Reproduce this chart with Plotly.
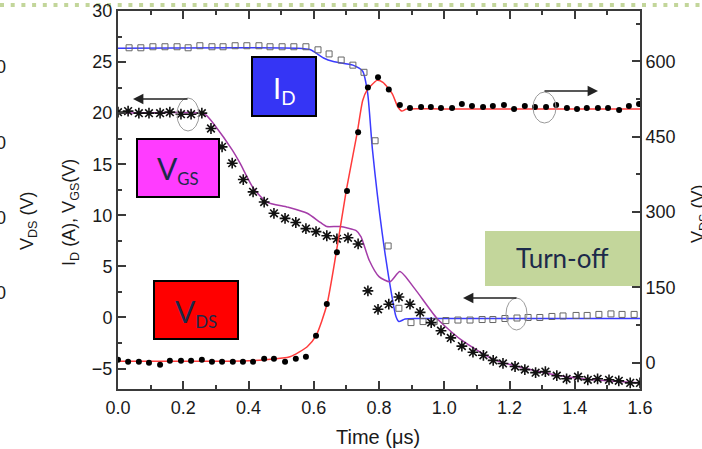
import plotly.graph_objects as go

# ---------------- data ----------------
# I_D simulated line (left axis, A)
id_line_x = [0.0, 0.55, 0.59, 0.63, 0.66, 0.72, 0.75, 0.765, 0.78, 0.81, 0.84, 0.852, 0.861, 0.88, 0.92, 1.6]
id_line_y = [26.35, 26.35, 26.2, 25.4, 25.05, 24.7, 24.1, 22.0, 16.4, 8.2, 2.0, 0.1, -0.4, -0.15, -0.1, -0.1]

# I_D measured (open squares)
id_x = [0.034, 0.070, 0.107, 0.144, 0.181, 0.215, 0.251, 0.288, 0.322, 0.359, 0.395, 0.432, 0.466, 0.503,
        0.539, 0.576, 0.613, 0.647, 0.684, 0.720, 0.754, 0.788, 0.828, 0.861, 0.898, 0.935, 0.969, 1.005,
        1.042, 1.079, 1.116, 1.149, 1.186, 1.223, 1.257, 1.293, 1.330, 1.364, 1.404, 1.438, 1.474, 1.511,
        1.545, 1.582]
id_y = [26.4, 26.4, 26.5, 26.5, 26.5, 26.4, 26.6, 26.5, 26.5, 26.6, 26.6, 26.6, 26.5, 26.5,
        26.5, 26.5, 26.2, 25.8, 25.2, 24.7, 24.0, 17.3, 7.0, 0.9, -0.5, -0.4, -0.4, -0.3,
        -0.25, -0.25, -0.2, -0.2, -0.1, -0.05, 0.0, 0.0, 0.1, 0.15, 0.2, 0.2, 0.3, 0.35,
        0.3, 0.3]

# V_GS simulated line (left axis, V)
vgs_line_x = [0.0, 0.25, 0.27, 0.297, 0.35, 0.374, 0.414, 0.456, 0.52, 0.58, 0.62, 0.64, 0.68, 0.73,
              0.745, 0.77, 0.80, 0.834, 0.864, 0.91, 0.978, 1.048, 1.15, 1.25, 1.355, 1.457, 1.6]
vgs_line_y = [20.0, 20.0, 19.8, 18.8, 16.4, 15.1, 12.7, 11.3, 10.8, 10.2, 9.3, 8.9, 8.9, 8.5,
              7.9, 5.6, 4.0, 3.5, 4.5, 2.8, -0.1, -2.1, -4.1, -5.0, -5.7, -6.1, -6.4]

# V_GS measured (asterisks)
vgs_x = [0.0, 0.031, 0.064, 0.095, 0.129, 0.159, 0.193, 0.224, 0.257, 0.285, 0.319, 0.35, 0.384, 0.414,
         0.448, 0.478, 0.512, 0.545, 0.576, 0.607, 0.64, 0.671, 0.705, 0.736, 0.766, 0.797, 0.83, 0.861,
         0.895, 0.926, 0.96, 0.99, 1.02, 1.054, 1.088, 1.12, 1.15, 1.18, 1.217, 1.247, 1.28, 1.31, 1.345,
         1.375, 1.41, 1.44, 1.47, 1.505, 1.535, 1.57, 1.6]
vgs_y = [20.1, 20.2, 20.0, 20.0, 20.0, 20.1, 19.9, 19.9, 20.0, 18.5, 16.7, 15.1, 13.5, 12.3,
         11.3, 10.2, 9.7, 9.3, 8.7, 8.4, 8.0, 7.7, 7.8, 7.2, 2.6, 0.8, 1.3, 2.0,
         1.3, 0.5, -0.5, -1.3, -2.0, -2.8, -3.4, -3.7, -4.2, -4.5, -4.8, -5.1, -5.4, -5.3, -5.7,
         -6.0, -5.8, -6.1, -6.0, -6.1, -6.2, -6.4, -6.4]

# V_DS simulated line (right axis, V)
vds_line_x = [0.0, 0.3, 0.4, 0.45, 0.527, 0.58, 0.607, 0.64, 0.67, 0.70, 0.733, 0.75, 0.763, 0.794,
              0.812, 0.84, 0.858, 0.87, 0.885, 1.0, 1.6]
vds_line_y = [3, 3, 4, 6, 12, 32, 54, 115, 224, 344, 457, 522, 542, 562,
              558, 536, 509, 501, 505, 505, 505]

# V_DS measured (filled dots)
vds_x = [0.0, 0.031, 0.064, 0.095, 0.129, 0.159, 0.193, 0.224, 0.257, 0.288, 0.319, 0.352, 0.383, 0.414,
         0.448, 0.478, 0.512, 0.545, 0.576, 0.607, 0.64, 0.671, 0.702, 0.736, 0.766, 0.797, 0.83, 0.864,
         0.895, 0.929, 0.959, 0.99, 1.024, 1.054, 1.085, 1.119, 1.149, 1.183, 1.214, 1.247, 1.278, 1.312,
         1.343, 1.376, 1.407, 1.437, 1.471, 1.502, 1.536, 1.566, 1.597]
vds_y = [6, 2, 2, 0, -4, 4, 4, 4, 6, 2, 2, 2, 2, 2,
         8, 8, 2, 8, 12, 54, 117, 220, 342, 459, 548, 568, 544, 513,
         507, 509, 509, 507, 507, 515, 511, 509, 511, 513, 505, 511, 509, 509,
         513, 507, 505, 507, 507, 507, 503, 511, 515]

x_ticks = [0.0, 0.2, 0.4, 0.6, 0.8, 1.0, 1.2, 1.4, 1.6]
x_ticktext = ["0.0", "0.2", "0.4", "0.6", "0.8", "1.0", "1.2", "1.4", "1.6"]
left_ticks = [-5, 0, 5, 10, 15, 20, 25, 30]
right_ticks = [0, 150, 300, 450, 600]

# ---------------- layout helpers ----------------
W, H = 702, 449
L, R, T, B = 118, 62, 11, 60
PW, PH = W - L - R, H - T - B


def px(xp):
    return (xp - L) / PW


def py(yp):
    return (H - B - yp) / PH


AX = "#3a3a3a"
NAVY = "#1c2a4a"

fig = go.Figure()

fig.add_trace(go.Scatter(x=id_line_x, y=id_line_y, mode="lines",
                         line=dict(color="#3b3bff", width=1.5, shape="spline", smoothing=0.6)))
fig.add_trace(go.Scatter(x=vgs_line_x, y=vgs_line_y, mode="lines",
                         line=dict(color="#a43ca8", width=1.5, shape="spline", smoothing=0.6)))
fig.add_trace(go.Scatter(x=vds_line_x, y=vds_line_y, mode="lines", yaxis="y2",
                         line=dict(color="#ff3b3b", width=1.5, shape="spline", smoothing=0.6)))
fig.add_trace(go.Scatter(x=id_x, y=id_y, mode="markers",
                         marker=dict(symbol="square-open", size=6, color="#666666",
                                     line=dict(width=1, color="#666666"))))
fig.add_trace(go.Scatter(x=vgs_x, y=vgs_y, mode="markers",
                         marker=dict(symbol="asterisk-open", size=9, color="#111111",
                                     line=dict(width=1.6, color="#111111"))))
fig.add_trace(go.Scatter(x=vds_x, y=vds_y, mode="markers", yaxis="y2",
                         marker=dict(symbol="circle", size=6, color="#000000")))

tickfont = dict(family="Liberation Sans, Arial, sans-serif", size=18, color="#1a1a1a")

shapes = []
# dotted green slide line at the top
shapes.append(dict(type="line", xref="paper", yref="paper", x0=px(0), x1=px(702), y0=py(5), y1=py(5),
                   line=dict(color="#c3d69b", width=4, dash="4px,6.7px"), layer="below"))
# boxes
shapes.append(dict(type="rect", xref="paper", yref="paper", x0=px(252), x1=px(316), y0=py(116), y1=py(57),
                   fillcolor="#3535f5", line=dict(color="#000000", width=2), layer="above"))
shapes.append(dict(type="rect", xref="paper", yref="paper", x0=px(137), x1=px(219), y0=py(197), y1=py(139),
                   fillcolor="#ff3cff", line=dict(color="#000000", width=2), layer="above"))
shapes.append(dict(type="rect", xref="paper", yref="paper", x0=px(154), x1=px(238), y0=py(339), y1=py(281),
                   fillcolor="#ff0000", line=dict(color="#000000", width=2), layer="above"))
shapes.append(dict(type="rect", xref="paper", yref="paper", x0=px(485), x1=px(640), y0=py(286), y1=py(231),
                   fillcolor="#c3d69b", line=dict(width=0), layer="above"))
# ellipses
for cx, cy, rx, ry in [(188, 114.5, 11, 16.5), (544.5, 107.5, 11.5, 15.5), (516.5, 314, 10.5, 16)]:
    shapes.append(dict(type="circle", xref="paper", yref="paper", x0=px(cx - rx), x1=px(cx + rx),
                       y0=py(cy + ry), y1=py(cy - ry), line=dict(color="#9a9a9a", width=1)))

annotations = []
# arrows
for tipx, tipy, tailx in [(133, 99, 189), (598, 91, 543), (463, 298, 518)]:
    annotations.append(dict(xref="paper", yref="paper", x=px(tipx), y=py(tipy), ax=tailx - tipx, ay=0,
                            text="", showarrow=True, arrowhead=2, arrowsize=1.6, arrowwidth=1.3,
                            arrowcolor="#222222"))


def label(x, y, text, font, angle=0, xanchor="center"):
    annotations.append(dict(xref="paper", yref="paper", x=px(x), y=py(y), text=text, textangle=angle,
                            xanchor=xanchor, yanchor="middle", showarrow=False, font=font))


box_font = "Lato, Open Sans, sans-serif"
label(284, 89, "<span style='font-size:29px'>I</span><sub>D</sub>", dict(family=box_font, size=27, color="#ffffff"))
label(178, 170, "<span style='font-size:30px'>V</span><sub>GS</sub>", dict(family=box_font, size=24, color=NAVY))
label(196, 312, "<span style='font-size:30px'>V</span><sub>DS</sub>", dict(family=box_font, size=24, color=NAVY))
label(562, 258, "Turn-off", dict(family=box_font, size=26, color=NAVY))
# axis titles
title_font = dict(family="Liberation Sans, Arial, sans-serif", size=18, color="#1a1a1a")
label(70, 213, "I<sub>D</sub> (A), V<sub>GS</sub>(V)", title_font, angle=-90)
label(378, 437, "Time (\u03bcs)", dict(family="Liberation Sans, Arial, sans-serif", size=20, color="#1a1a1a"))
label(700, 214, "V<sub>DS</sub> (V)", title_font, angle=-90)
# ghost items from the neighbouring slide content on the left
label(28, 221, "V<sub>DS</sub> (V)", title_font, angle=-90)
for gy in [67, 143, 218, 293]:
    label(8, gy, "00", tickfont, xanchor="right")

fig.update_layout(
    template="none",
    width=W, height=H,
    margin=dict(l=L, r=R, t=T, b=B, pad=0),
    paper_bgcolor="white", plot_bgcolor="white",
    showlegend=False,
    xaxis=dict(range=[0, 1.6], tickvals=x_ticks, ticktext=x_ticktext, ticks="inside", ticklen=8,
               tickwidth=1.5, tickcolor=AX, showline=True, linecolor=AX, linewidth=2, mirror="ticks",
               showgrid=False, zeroline=False, tickfont=tickfont, automargin=False, ticklabelstandoff=1,
               minor=dict(ticks="inside", ticklen=4, dtick=0.1, tick0=0, tickwidth=1.5, tickcolor=AX)),
    yaxis=dict(range=[-7, 30], tickvals=left_ticks, ticks="inside", ticklen=8, tickwidth=1.5, tickcolor=AX,
               showline=True, linecolor=AX, linewidth=2, showgrid=False, zeroline=False, tickfont=tickfont,
               automargin=False,
               minor=dict(ticks="inside", ticklen=4, dtick=2.5, tick0=0, tickwidth=1.5, tickcolor=AX)),
    yaxis2=dict(range=[-52, 700], overlaying="y", side="right", tickvals=right_ticks, ticks="inside",
                ticklen=8, tickwidth=1.5, tickcolor=AX, showline=True, linecolor=AX, linewidth=2,
                showgrid=False, zeroline=False, tickfont=tickfont, automargin=False,
                minor=dict(ticks="inside", ticklen=4, dtick=75, tick0=0, tickwidth=1.5, tickcolor=AX)),
    shapes=shapes,
    annotations=annotations,
)

fig.write_html("out.html", config={"displayModeBar": False},
               post_script="document.body.style.margin='0px';")
